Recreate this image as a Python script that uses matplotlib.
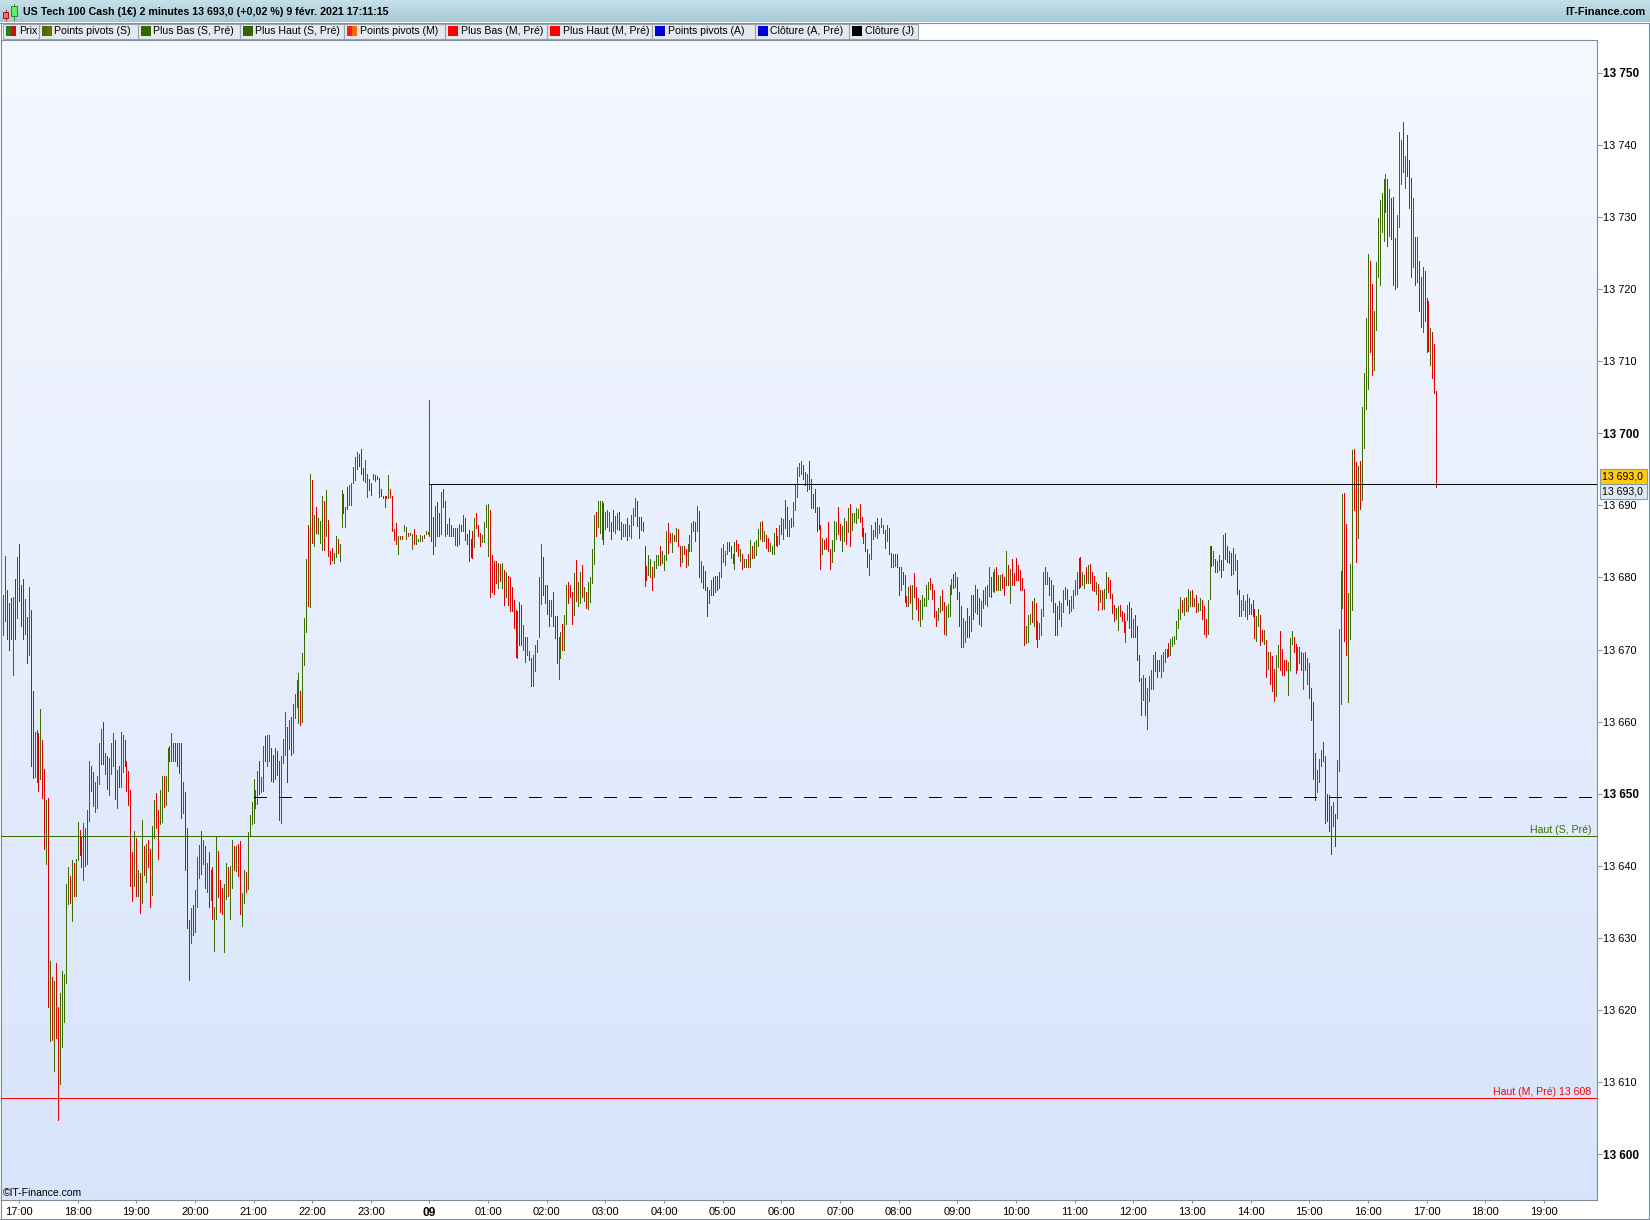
import numpy as np
import pandas as pd
import matplotlib
matplotlib.use("Agg")
import matplotlib.pyplot as plt
import matplotlib.dates as mdates
from matplotlib.colors import LinearSegmentedColormap
from matplotlib.patches import Rectangle

plt.rcParams['font.family'] = ['Liberation Sans', 'DejaVu Sans']

# ---------------------------------------------------------------- data
title_text = "US Tech 100 Cash (1€) 2 minutes 13 693,0 (+0,02 %) 9 févr. 2021 17:11:15"
site_text = "IT-Finance.com"
copyright_text = "©IT-Finance.com"
first_bar_time = "2021-02-08 16:44"
bar_period = "2min"

# 2-minute bars, highs
bar_high = [
    # 16:44 - 21:06
    13677.5, 13683.0, 13678.3, 13676.5, 13677.1, 13677.3, 13679.8, 13682.9, 13684.6, 13679.0,
    13679.8, 13677.0, 13674.5, 13678.7, 13675.5, 13664.2, 13658.6, 13658.8, 13658.5, 13661.7,
    13657.4, 13653.4, 13649.1, 13649.4, 13626.8, 13624.6, 13624.0, 13626.5, 13620.5, 13622.4,
    13625.5, 13625.0, 13637.5, 13639.9, 13638.6, 13640.8, 13640.4, 13641.0, 13646.1, 13645.0,
    13644.1, 13646.0, 13645.3, 13647.7, 13654.6, 13653.8, 13653.0, 13651.6, 13652.5, 13657.0,
    13659.0, 13659.9, 13655.7, 13655.3, 13654.9, 13657.0, 13658.5, 13657.5, 13653.3, 13653.8,
    13658.6, 13658.1, 13657.4, 13654.6, 13653.2, 13650.5, 13641.9, 13644.8, 13643.9, 13639.5,
    13639.0, 13646.3, 13642.8, 13643.1, 13643.6, 13642.3, 13645.5, 13649.2, 13650.1, 13647.7,
    13650.5, 13652.5, 13652.5, 13652.5, 13656.3, 13656.6, 13658.5, 13657.0, 13657.0, 13657.0,
    13657.0, 13657.0, 13651.6, 13650.2, 13645.2, 13632.5, 13634.1, 13634.6, 13636.6, 13641.2,
    13642.9, 13644.9, 13643.6, 13642.8, 13640.4, 13642.0, 13639.5, 13639.9, 13634.3, 13644.0,
    13642.1, 13638.0, 13637.0, 13637.5, 13640.4, 13639.9, 13640.0, 13643.6, 13642.8, 13642.8,
    13643.1, 13643.4, 13636.2, 13639.5, 13639.1, 13644.7, 13647.1, 13648.9, 13652.1, 13650.5,
    13653.2, 13654.6,
    # 21:08 - 04:34
    13652.4, 13656.6, 13658.0, 13658.2, 13658.2, 13656.3, 13655.4, 13656.3, 13655.9, 13654.6,
    13655.2, 13657.6, 13661.4, 13659.2, 13660.2, 13660.6, 13662.5, 13663.9, 13665.8, 13666.7,
    13664.3, 13669.5, 13674.4, 13682.6, 13687.3, 13694.3, 13693.5, 13688.7, 13689.7, 13688.2,
    13687.8, 13691.3, 13690.6, 13692.1, 13688.0, 13683.7, 13684.1, 13683.4, 13685.7, 13685.3,
    13684.6, 13692.1, 13691.6, 13689.8, 13692.6, 13692.8, 13693.1, 13695.3, 13696.7, 13697.4,
    13697.1, 13697.8, 13695.2, 13696.3, 13694.3, 13693.6, 13693.1, 13694.4, 13694.2, 13694.1,
    13693.8, 13692.3, 13691.3, 13691.3, 13691.3, 13694.2, 13692.3, 13691.3, 13686.7, 13687.6,
    13685.7, 13685.8, 13685.8, 13687.3, 13687.0, 13686.2, 13686.1, 13686.0, 13686.7, 13685.9,
    13685.4, 13685.9, 13685.7, 13685.9, 13686.4, 13686.3, 13704.6, 13692.8, 13688.4, 13689.9,
    13690.4, 13689.0, 13691.9, 13692.2, 13690.6, 13687.4, 13688.3, 13687.3, 13686.9, 13686.9,
    13686.9, 13687.4, 13687.3, 13688.7, 13688.3, 13686.0, 13686.6, 13685.4, 13686.4, 13688.3,
    13689.0, 13687.3, 13686.1, 13685.9, 13687.7, 13690.0, 13690.2, 13689.4, 13683.1, 13682.3,
    13682.3, 13682.0, 13681.8, 13682.0, 13681.1, 13680.7, 13680.2, 13680.0, 13678.7, 13676.9,
    13675.5, 13675.4, 13676.6, 13676.2, 13673.4, 13671.8, 13671.8, 13669.8, 13668.9, 13669.3,
    13670.6, 13671.3, 13680.1, 13684.7, 13682.9, 13679.0, 13679.0, 13676.9, 13676.9, 13678.0,
    13674.7, 13674.7, 13671.8, 13672.5, 13673.5, 13674.8, 13679.0, 13679.4, 13679.0, 13678.0,
    13680.6, 13682.4, 13679.3, 13680.8, 13681.7, 13678.7, 13678.0, 13679.3, 13680.0, 13684.0,
    13688.7, 13689.1, 13690.6, 13690.6, 13690.6, 13690.3, 13689.1, 13689.4, 13689.1, 13687.7,
    13689.3, 13688.5, 13689.0, 13689.1, 13687.7, 13687.4, 13687.4, 13688.3, 13687.3, 13688.7,
    13689.6, 13691.0, 13690.6, 13688.4, 13688.4, 13687.7, 13684.3, 13681.6, 13683.1, 13682.6,
    13681.4, 13682.3, 13683.1, 13683.1, 13684.3, 13683.7, 13683.1, 13686.4, 13687.6, 13686.1,
    13686.1, 13685.9, 13686.8, 13686.7, 13684.4, 13684.3, 13684.3, 13683.9, 13684.6, 13685.9,
    13687.6, 13687.8, 13687.7, 13689.9,
    # 04:36 - 12:06
    13689.2, 13682.3, 13681.6, 13680.9, 13678.7, 13678.2, 13679.7, 13680.0, 13680.2, 13680.2,
    13680.8, 13684.1, 13684.6, 13683.7, 13684.9, 13684.9, 13684.4, 13683.3, 13684.9, 13685.2,
    13684.7, 13684.0, 13683.3, 13682.6, 13682.6, 13683.3, 13685.2, 13684.3, 13684.9, 13685.2,
    13686.7, 13687.7, 13687.8, 13686.4, 13685.9, 13685.5, 13684.8, 13684.4, 13686.1, 13686.8,
    13685.7, 13687.3, 13688.3, 13688.1, 13690.8, 13689.7, 13688.0, 13688.3, 13690.5, 13692.8,
    13695.3, 13695.8, 13696.1, 13695.6, 13694.6, 13694.3, 13696.1, 13693.6, 13691.6, 13692.3,
    13689.7, 13689.8, 13687.3, 13685.5, 13685.2, 13685.5, 13687.7, 13684.0, 13685.2, 13687.8,
    13687.7, 13689.8, 13687.4, 13687.1, 13688.3, 13687.8, 13689.6, 13690.2, 13689.0, 13689.0,
    13689.6, 13689.5, 13690.2, 13688.4, 13686.8, 13686.2, 13684.0, 13683.3, 13687.3, 13686.6,
    13687.7, 13688.2, 13687.3, 13688.3, 13687.3, 13686.6, 13687.3, 13686.9, 13683.4, 13683.3,
    13683.3,
    13683.3, 13681.5, 13681.5, 13680.7, 13680.3, 13677.4, 13678.7, 13679.0, 13679.0, 13680.6,
    13678.7, 13677.1, 13676.9, 13677.6, 13677.2, 13678.9, 13679.4, 13679.9, 13679.1, 13678.3,
    13675.3, 13675.7, 13677.4, 13678.3, 13676.6, 13676.0, 13676.3, 13678.9, 13679.8, 13680.5,
    13680.7, 13680.1, 13678.0, 13676.0, 13674.4, 13674.0, 13675.8, 13674.7, 13677.6, 13677.6,
    13679.0, 13678.4, 13677.2, 13676.7, 13678.3, 13678.7, 13679.0, 13681.5, 13680.0, 13680.8,
    13681.2, 13681.4, 13680.3, 13680.3,
    13680.5,
    13680.0, 13683.7, 13681.7, 13681.2, 13682.6, 13680.6, 13682.7, 13681.7, 13681.1, 13679.9,
    13678.4, 13673.2, 13674.8, 13675.0, 13676.7, 13677.2, 13676.5, 13673.9, 13673.7, 13675.6,
    13680.7, 13681.5, 13680.7, 13680.1, 13679.7, 13679.0, 13676.4, 13676.0, 13676.7, 13676.4,
    13678.2, 13678.7, 13678.4, 13676.9, 13677.4, 13678.3, 13679.6, 13680.8, 13682.7, 13682.9,
    13680.8, 13680.3, 13681.5, 13681.7, 13681.9, 13680.7, 13680.2, 13679.4, 13679.1, 13678.3,
    13678.3, 13678.4, 13680.7, 13680.0, 13679.6, 13677.7, 13676.2, 13675.7, 13676.0, 13676.2,
    13675.3, 13675.1, 13674.0, 13676.2, 13676.6, 13675.7, 13674.3, 13674.8, 13673.3, 13669.2,
    # 12:08 - 14:50
    13666.1, 13666.5, 13666.1, 13664.7, 13666.3, 13667.2, 13669.2, 13669.6, 13668.5, 13668.6,
    13669.2, 13669.6, 13670.1, 13670.1, 13670.9, 13671.5, 13671.8, 13671.9, 13673.9, 13675.6,
    13677.3, 13676.9, 13677.2, 13677.3, 13678.4, 13678.1, 13678.3, 13677.2, 13677.6, 13676.4,
    13677.2, 13676.9, 13676.0, 13674.2, 13676.9, 13684.4, 13684.4, 13683.7, 13682.6, 13682.3,
    13683.1, 13682.4, 13685.9, 13686.1, 13684.4, 13683.7, 13683.4, 13684.1, 13683.3, 13682.4,
    13678.3, 13676.9, 13677.6, 13676.7, 13677.7, 13677.1, 13676.3, 13676.9, 13675.6, 13674.6,
    13675.6, 13674.8, 13672.7, 13672.7, 13671.3, 13669.7, 13669.7, 13669.1, 13667.3, 13669.2,
    13670.6, 13672.6, 13670.1, 13668.6, 13668.6, 13668.3, 13671.6, 13672.6, 13671.8, 13670.8,
    13670.4, 13670.4,
    # 14:52 - 17:10
    13669.6, 13669.5, 13669.6, 13668.9, 13668.1, 13664.7, 13662.7, 13655.6, 13653.3, 13654.8,
    13656.1, 13657.2, 13655.2, 13650.0, 13649.8, 13648.3, 13648.8, 13647.2, 13654.7, 13672.9,
    13680.9, 13691.6, 13691.7, 13687.4, 13677.9, 13681.8, 13697.7, 13697.8, 13696.0, 13695.5,
    13696.1, 13703.6, 13708.4, 13716.0, 13724.8, 13723.9, 13720.7, 13716.9, 13723.8, 13729.9,
    13732.4, 13733.3, 13735.2, 13735.9, 13735.2, 13733.8, 13732.6, 13732.8, 13727.1, 13730.3,
    13741.7, 13740.7, 13743.1, 13738.4, 13741.4, 13737.9, 13735.4, 13732.6, 13727.2, 13727.2,
    13723.9, 13721.7, 13723.1, 13722.5, 13718.7, 13718.3, 13714.6, 13714.1, 13712.4, 13705.8,
]

# 2-minute bars, lows
bar_low = [
    # 16:44 - 21:06
    13672.0, 13673.9, 13671.4, 13670.0, 13671.4, 13666.5, 13671.4, 13674.4, 13676.8, 13673.2,
    13671.4, 13672.2, 13668.1, 13669.2, 13653.8, 13652.2, 13652.4, 13651.6, 13650.4, 13652.0,
    13649.4, 13642.3, 13640.3, 13620.5, 13615.7, 13615.9, 13611.6, 13616.2, 13604.8, 13609.8,
    13614.9, 13618.4, 13623.8, 13634.7, 13634.9, 13632.4, 13635.8, 13635.9, 13640.8, 13641.5,
    13639.9, 13638.0, 13640.0, 13640.2, 13646.2, 13650.4, 13648.3, 13647.5, 13648.0, 13651.3,
    13654.2, 13654.1, 13652.7, 13650.7, 13649.9, 13652.8, 13653.8, 13649.3, 13648.0, 13650.9,
    13650.9, 13653.0, 13653.8, 13650.4, 13648.4, 13637.2, 13635.1, 13637.2, 13635.9, 13635.9,
    13633.5, 13634.9, 13638.8, 13637.8, 13639.9, 13634.3, 13636.0, 13643.9, 13645.2, 13640.9,
    13645.8, 13646.1, 13648.2, 13648.5, 13650.4, 13654.5, 13654.5, 13654.5, 13654.5, 13653.8,
    13652.9, 13646.7, 13647.3, 13639.5, 13631.4, 13624.2, 13629.3, 13630.4, 13630.9, 13634.3,
    13638.3, 13638.9, 13640.3, 13637.0, 13636.4, 13634.3, 13635.3, 13632.6, 13628.2, 13632.7,
    13635.7, 13633.6, 13633.3, 13628.1, 13635.4, 13635.8, 13632.7, 13637.0, 13639.4, 13639.3,
    13638.6, 13633.3, 13631.7, 13634.9, 13636.4, 13636.8, 13644.2, 13645.8, 13646.0, 13648.0,
    13648.6, 13650.0,
    # 21:08 - 04:34
    13650.3, 13650.4, 13654.5, 13653.8, 13654.5, 13651.8, 13651.6, 13652.0, 13652.6, 13646.4,
    13645.9, 13654.3, 13655.4, 13651.7, 13656.2, 13655.4, 13655.7, 13660.5, 13662.0, 13659.8,
    13659.5, 13659.9, 13667.9, 13672.5, 13676.0, 13675.9, 13684.8, 13684.3, 13686.2, 13686.0,
    13684.8, 13683.8, 13683.8, 13685.8, 13683.0, 13681.8, 13682.4, 13682.0, 13682.9, 13683.4,
    13682.3, 13687.0, 13689.0, 13687.0, 13689.5, 13690.0, 13690.1, 13693.1, 13693.5, 13695.0,
    13695.5, 13694.3, 13693.5, 13693.3, 13691.1, 13692.1, 13691.4, 13693.6, 13693.4, 13693.6,
    13691.2, 13691.3, 13691.0, 13689.8, 13691.0, 13691.0, 13691.1, 13686.5, 13685.2, 13684.7,
    13683.3, 13685.3, 13685.4, 13686.4, 13685.4, 13685.7, 13685.9, 13684.0, 13684.7, 13684.7,
    13685.1, 13685.1, 13685.1, 13685.5, 13686.0, 13686.0, 13685.8, 13685.1, 13683.3, 13684.3,
    13685.8, 13685.8, 13686.0, 13689.7, 13685.8, 13686.0, 13685.8, 13685.8, 13685.8, 13684.5,
    13684.3, 13684.7, 13686.4, 13686.4, 13685.2, 13684.6, 13682.3, 13682.9, 13682.7, 13684.2,
    13686.8, 13685.7, 13684.3, 13684.9, 13684.9, 13687.0, 13683.0, 13677.3, 13678.0, 13677.7,
    13679.2, 13678.5, 13679.5, 13678.6, 13676.2, 13677.3, 13676.2, 13675.3, 13675.3, 13673.0,
    13669.0, 13668.8, 13670.6, 13670.6, 13669.9, 13668.3, 13669.2, 13668.6, 13665.0, 13665.0,
    13667.0, 13669.7, 13671.8, 13676.3, 13677.5, 13676.4, 13674.9, 13673.3, 13674.7, 13673.3,
    13671.6, 13668.2, 13665.9, 13668.9, 13669.9, 13670.0, 13673.5, 13676.4, 13677.3, 13673.6,
    13674.8, 13676.7, 13676.1, 13676.4, 13677.3, 13676.8, 13675.7, 13675.6, 13676.6, 13679.2,
    13681.8, 13685.8, 13687.0, 13686.2, 13685.4, 13684.6, 13686.7, 13687.0, 13686.4, 13685.3,
    13686.4, 13686.1, 13686.7, 13686.6, 13685.4, 13685.8, 13685.7, 13685.2, 13685.7, 13685.5,
    13687.3, 13688.5, 13687.1, 13685.5, 13686.6, 13686.4, 13678.8, 13679.7, 13680.3, 13680.1,
    13678.3, 13680.0, 13681.3, 13681.7, 13681.7, 13682.0, 13681.0, 13682.4, 13683.4, 13684.9,
    13683.5, 13685.1, 13685.0, 13684.3, 13681.6, 13682.1, 13683.3, 13681.5, 13681.7, 13683.6,
    13683.7, 13686.4, 13685.1, 13686.4,
    # 04:36 - 12:06
    13680.1, 13679.3, 13678.6, 13678.2, 13674.6, 13676.5, 13677.5, 13677.5, 13678.0, 13678.3,
    13678.6, 13680.1, 13682.2, 13681.7, 13683.3, 13683.6, 13682.7, 13682.0, 13681.2, 13683.6,
    13683.0, 13682.3, 13681.2, 13681.5, 13681.5, 13681.5, 13681.5, 13682.7, 13682.7, 13683.1,
    13684.3, 13685.4, 13685.1, 13685.0, 13684.1, 13683.6, 13683.7, 13683.3, 13683.3, 13684.5,
    13684.3, 13684.7, 13686.0, 13685.3, 13686.8, 13685.7, 13685.7, 13687.0, 13687.1, 13689.4,
    13691.1, 13694.0, 13694.3, 13693.6, 13692.8, 13692.0, 13692.2, 13689.6, 13689.6, 13689.1,
    13686.4, 13686.7, 13681.2, 13683.3, 13683.9, 13684.0, 13683.6, 13681.2, 13682.2, 13683.7,
    13685.4, 13686.0, 13685.2, 13683.6, 13685.1, 13684.6, 13686.3, 13684.3, 13686.6, 13687.7,
    13687.6, 13688.3, 13687.7, 13685.7, 13684.8, 13683.7, 13681.5, 13680.3, 13682.6, 13685.3,
    13685.7, 13685.5, 13686.2, 13687.0, 13686.1, 13684.1, 13685.1, 13683.3, 13681.5, 13681.5,
    13681.6,
    13681.5, 13677.6, 13678.3, 13679.1, 13676.6, 13676.0, 13676.0, 13676.5, 13674.2, 13677.3,
    13675.6, 13674.1, 13673.2, 13674.2, 13676.0, 13676.0, 13677.0, 13678.4, 13677.0, 13674.5,
    13673.3, 13674.1, 13675.2, 13675.5, 13672.2, 13672.0, 13674.5, 13674.6, 13677.7, 13678.5,
    13678.7, 13677.0, 13673.3, 13670.3, 13670.3, 13671.0, 13671.7, 13671.7, 13672.6, 13674.2,
    13675.2, 13675.0, 13673.6, 13673.3, 13675.7, 13676.3, 13676.1, 13677.4, 13677.3, 13678.1,
    13678.0, 13678.2, 13678.2, 13678.2,
    13678.5,
    13677.5, 13679.0, 13678.9, 13676.4, 13678.9, 13678.9, 13679.6, 13679.7, 13678.3, 13678.3,
    13670.6, 13670.9, 13671.1, 13673.5, 13673.8, 13673.3, 13671.5, 13670.3, 13671.5, 13672.0,
    13674.6, 13679.1, 13679.1, 13677.5, 13676.7, 13675.2, 13672.0, 13672.0, 13674.2, 13673.2,
    13675.2, 13677.0, 13676.2, 13675.1, 13675.3, 13675.7, 13677.6, 13677.7, 13678.6, 13678.7,
    13679.0, 13678.6, 13679.2, 13679.2, 13679.2, 13678.3, 13678.1, 13677.7, 13675.5, 13676.6,
    13675.6, 13675.6, 13677.2, 13678.0, 13677.2, 13675.1, 13674.0, 13674.2, 13672.7, 13674.7,
    13674.0, 13672.4, 13671.1, 13674.1, 13673.0, 13671.8, 13671.7, 13671.8, 13668.6, 13665.6,
    # 12:08 - 14:50
    13660.9, 13663.0, 13660.9, 13659.0, 13662.8, 13664.6, 13664.5, 13667.0, 13666.2, 13667.0,
    13666.2, 13667.0, 13668.3, 13669.0, 13669.1, 13669.2, 13670.5, 13670.8, 13671.5, 13673.0,
    13674.2, 13675.2, 13674.8, 13675.3, 13675.3, 13676.0, 13676.0, 13676.0, 13675.2, 13675.3,
    13675.5, 13674.2, 13672.2, 13671.8, 13672.2, 13677.0, 13681.6, 13681.7, 13680.7, 13680.7,
    13681.0, 13680.1, 13681.0, 13682.6, 13682.2, 13682.0, 13680.3, 13680.5, 13681.0, 13677.7,
    13674.6, 13674.6, 13675.5, 13674.6, 13674.2, 13675.0, 13675.0, 13674.6, 13671.6, 13671.2,
    13673.2, 13670.6, 13671.2, 13670.8, 13666.2, 13667.3, 13665.2, 13664.3, 13662.8, 13663.5,
    13667.6, 13667.2, 13666.5, 13666.5, 13667.2, 13663.7, 13667.1, 13670.8, 13669.6, 13666.7,
    13667.2, 13668.2,
    # 14:52 - 17:10
    13667.1, 13664.6, 13667.2, 13665.2, 13663.3, 13660.3, 13652.1, 13649.1, 13650.3, 13651.6,
    13653.8, 13654.6, 13646.0, 13646.2, 13644.8, 13641.7, 13645.6, 13642.7, 13646.7, 13653.1,
    13662.5, 13675.7, 13671.2, 13669.3, 13662.7, 13671.4, 13675.5, 13689.4, 13682.2, 13685.5,
    13689.5, 13690.8, 13697.9, 13703.3, 13706.1, 13711.2, 13708.1, 13708.7, 13714.3, 13721.7,
    13720.5, 13727.9, 13726.7, 13730.7, 13726.0, 13727.4, 13726.9, 13720.5, 13720.0, 13720.3,
    13728.6, 13734.5, 13736.2, 13734.0, 13735.7, 13731.2, 13721.6, 13723.1, 13720.5, 13721.0,
    13717.0, 13714.7, 13714.1, 13715.6, 13711.2, 13711.4, 13709.4, 13707.6, 13705.6, 13692.6,
]

# bar direction: u = close above open (green), d = close below open (red)
bar_dir = "".join([
    # 16:44 - 21:06
    "uudddududd", "dududduddu", "ddudududdu", "uuuududuud", "duduudduuu",
    "ududuuudud", "uudddddudu", "dududduudd", "uuduududdd", "dduddduduu",
    "ududududuu", "ddduuduudu", "dduuduuuuu", "ud",
    # 21:08 - 04:34
    "uuduuddudd", "uuududuuuu", "duuudududu", "uududdduud", "uududuuuuu",
    "ddduuddudd", "dddududddd", "uuduuduudu", "uuuduuuddu", "dduddudduu",
    "dududdddduu"[:10], "ddduuuuddd", "dudududddd", "duddududdu", "uuuuddddud",
    "dduuduuddd", "uduududuuu", "uduuuduuud", "duudduuduu", "uudddddduu",
    "duuuduuudd", "ududdudduu", "uddu",
    # 04:36 - 12:06
    "duddddudud", "uuuuudddud", "duduududuu", "uududduuud", "uududduduu",
    "uuuddudddd", "dddudddduu", "udduududuu", "uuddddduuu", "duuudduddu",
    "u",
    "ddudddudud", "dduuuuuddd", "duudduuuud", "uddduuddud", "udduduuudu",
    "uduu",
    "d",
    "dududddddd", "duuududduu", "udududdudu", "uudduuuudd", "uududddudu",
    "duudddduud", "dduudduddd",
    # 12:08 - 14:50
    "duduuuuddd", "uuuuduuuuu", "ududuududu", "uddduududu", "ududddduud",
    "duuuuddddu", "uddududddu", "udddduuudd", "uu",
    # 14:52 - 17:10
    "dududddduu", "uddddduduu", "uudduuuddu", "duuuudduuu", "uuuududddu",
    "uududddudu", "dduddduddd",
])

legend_labels = ["Prix", "Points pivots (S)", "Plus Bas (S, Pré)", "Plus Haut (S, Pré)",
                 "Points pivots (M)", "Plus Bas (M, Pré)", "Plus Haut (M, Pré)",
                 "Points pivots (A)", "Clôture (A, Pré)", "Clôture (J)"]
legend_swatches = [("#2f7a12", "#c81010"), ("#4f6a00", "#6d6d00"), ("#336600", "#336600"),
                   ("#336600", "#336600"), ("#ff1a1a", "#ff6a00"), ("#ff0000", "#ff0000"),
                   ("#ff0000", "#ff0000"), ("#0000d8", "#0000d8"), ("#0000d8", "#0000d8"),
                   ("#000000", "#000000")]

last_price = 13693.0
day_close = 13693.0
day_close_start = "2021-02-09 00:00"
pivot_level = 13649.6
pivot_start = "2021-02-08 21:00"
week_high_prev = 13644.2
week_high_label = "Haut (S, Pré)"
month_high_prev = 13607.8
month_high_label = "Haut (M, Pré) 13 608"
price_ticks = list(range(13600, 13751, 10))
hour_ticks = pd.date_range("2021-02-08 17:00", "2021-02-09 19:00", freq="1h")

# ---------------------------------------------------------------- layout
W, H = 1650, 1220
PL, PR, PT, PB = 1, 1597, 40, 1200          # plot area in pixels
GREEN, RED = "#3a6c00", "#e00000"
FRAME = "#7d8e9a"

fig = plt.figure(figsize=(W / 100, H / 100), dpi=100)
fig.patch.set_facecolor("white")

bg = fig.add_axes([0, 0, 1, 1])
bg.axis("off")

# header band
hdr_cmap = LinearSegmentedColormap.from_list("hdr", ["#c8e1ea", "#a5c8d5"])
bg.imshow(np.linspace(0, 1, 64).reshape(-1, 1), extent=[0, W, 22.5, 0],
          aspect="auto", cmap=hdr_cmap, origin="upper", zorder=0)
bg.plot([0, W], [22.5, 22.5], color="#7b95a3", lw=0.8, zorder=1)
# small candle icon
bg.plot([5.7, 5.7], [9.5, 19.5], color="#a00000", lw=0.6, zorder=2)
bg.add_patch(Rectangle((3.2, 11.5), 5, 6, fc="#f07070", ec="#a00000", lw=0.6, zorder=3))
bg.plot([13.8, 13.8], [3.5, 19.5], color="#1f7a1f", lw=0.6, zorder=2)
bg.add_patch(Rectangle((10.8, 6), 6, 10, fc="#66ee66", ec="#1f7a1f", lw=0.6, zorder=3))
bg.text(23, 12, title_text, fontsize=7.7, fontweight="bold", va="center", ha="left", zorder=4)
bg.text(1645, 12, site_text, fontsize=7.9, fontweight="bold", va="center", ha="right", zorder=4)

# legend buttons
btn_edges = [3.2, 38.9, 137.9, 239.9, 344.1, 445.1, 547.2, 652.4, 754.5, 849.2, 917.6]
for k, lab in enumerate(legend_labels):
    x0, x1 = btn_edges[k], btn_edges[k + 1]
    bg.add_patch(Rectangle((x0, 23.5), x1 - x0, 15.5, fc="#e4e9ee", ec="#98a5b0", lw=0.8, zorder=2))
    cl, cr = legend_swatches[k]
    bg.add_patch(Rectangle((x0 + 3, 26.2), 5, 10, fc=cl, ec="none", zorder=3))
    bg.add_patch(Rectangle((x0 + 8, 26.2), 5, 10, fc=cr, ec="none", zorder=3))
    bg.text(x0 + 15.5, 31.5, lab, fontsize=7.6, va="center", ha="left", zorder=4)

# outer frame
bg.plot([0.5, 0.5], [22.5, H], color=FRAME, lw=0.8)
bg.plot([W - 1, W - 1], [22.5, H], color=FRAME, lw=0.8)
bg.plot([0, W], [H - 0.8, H - 0.8], color=FRAME, lw=0.8)
bg.set_xlim(0, W)
bg.set_ylim(H, 0)

# main price panel
ax = fig.add_axes([PL / W, 1 - PB / H, (PR - PL) / W, (PB - PT) / H])
times = pd.date_range(first_bar_time, periods=len(bar_high), freq=bar_period)
xt = mdates.date2num(times)
t0 = pd.Timestamp(first_bar_time)
x_left = mdates.date2num(t0 - pd.Timedelta(minutes=2.35))
x_right = mdates.date2num(t0 + pd.Timedelta(minutes=1630.4))
y_low, y_high = 13593.68, 13754.52

bg_cmap = LinearSegmentedColormap.from_list("panel", ["#f5f8ff", "#d8e4fb"])
ax.imshow(np.linspace(0, 1, 256).reshape(-1, 1), extent=[x_left, x_right, y_low, y_high],
          aspect="auto", cmap=bg_cmap, origin="upper", zorder=0)

cols = [GREEN if d == "u" else RED for d in bar_dir]
ax.vlines(xt, bar_low, bar_high, colors=cols, linewidth=0.5, antialiased=False, zorder=3)

ax.hlines(month_high_prev, x_left, x_right, colors="#ff0000", linewidth=0.6,
          antialiased=False, zorder=4)
ax.hlines(week_high_prev, x_left, x_right, colors=GREEN, linewidth=0.6,
          antialiased=False, zorder=4)
ax.plot([mdates.date2num(pd.Timestamp(pivot_start)), x_right], [pivot_level, pivot_level],
        color="black", lw=0.72, ls=(0, (12, 12)), antialiased=False, zorder=4)
ax.hlines(day_close, mdates.date2num(pd.Timestamp(day_close_start)), x_right,
          colors="black", linewidth=0.6, antialiased=False, zorder=4)

ax.annotate(week_high_label, xy=(1, week_high_prev), xycoords=("axes fraction", "data"),
            xytext=(-6, 3), textcoords="offset pixels", ha="right", va="baseline",
            color=GREEN, fontsize=7.6, zorder=5)
ax.annotate(month_high_label, xy=(1, month_high_prev), xycoords=("axes fraction", "data"),
            xytext=(-6, 3), textcoords="offset pixels", ha="right", va="baseline",
            color="#ff0000", fontsize=7.6, zorder=5)
ax.annotate(copyright_text, xy=(0, 0), xycoords="axes fraction", xytext=(2, 4),
            textcoords="offset pixels", ha="left", va="baseline", fontsize=7.5, zorder=5)

ax.set_xlim(x_left, x_right)
ax.set_ylim(y_low, y_high)

# price axis on the right
ax.yaxis.tick_right()
ax.set_yticks(price_ticks)
ax.set_yticklabels([f"{v:,}".replace(",", " ") for v in price_ticks])
ax.tick_params(axis="y", direction="out", length=3.6, width=0.7, color=FRAME, pad=0.8,
               labelsize=7.9)
for lbl, v in zip(ax.get_yticklabels(), price_ticks):
    if v % 50 == 0:
        lbl.set_fontweight("bold")
        lbl.set_fontsize(8.5)

# time axis
ax.set_xticks(mdates.date2num(hour_ticks))
ax.set_xticklabels(["09" if t.hour == 0 else t.strftime("%H:%M") for t in hour_ticks])
ax.tick_params(axis="x", direction="out", length=2.5, width=0.7, color=FRAME, pad=2.2,
               labelsize=8)
for lbl, t in zip(ax.get_xticklabels(), hour_ticks):
    if t.hour == 0:
        lbl.set_fontweight("bold")
        lbl.set_fontsize(8.6)

for sp in ax.spines.values():
    sp.set_color(FRAME)
    sp.set_linewidth(0.8)

# last price / daily close boxes on the price axis
y_disp = ax.transData.transform((x_right, last_price))[1]
y_line = H - y_disp
bg.add_patch(Rectangle((1600, y_line - 15), 47, 15, fc="#ffcc10", ec="#8b9aa5", lw=0.8, zorder=6))
bg.text(1602.5, y_line - 7.3, f"{last_price:,.1f}".replace(",", " ").replace(".", ","),
        fontsize=7.6, va="center", ha="left", zorder=7)
bg.add_patch(Rectangle((1600, y_line), 47, 15.5, fc="#dfe8f2", ec="#8b9aa5", lw=0.8, zorder=6))
bg.text(1602.5, y_line + 7.8, f"{day_close:,.1f}".replace(",", " ").replace(".", ","),
        fontsize=7.6, va="center", ha="left", zorder=7)

fig.savefig("out.png", dpi=100, facecolor="white")
